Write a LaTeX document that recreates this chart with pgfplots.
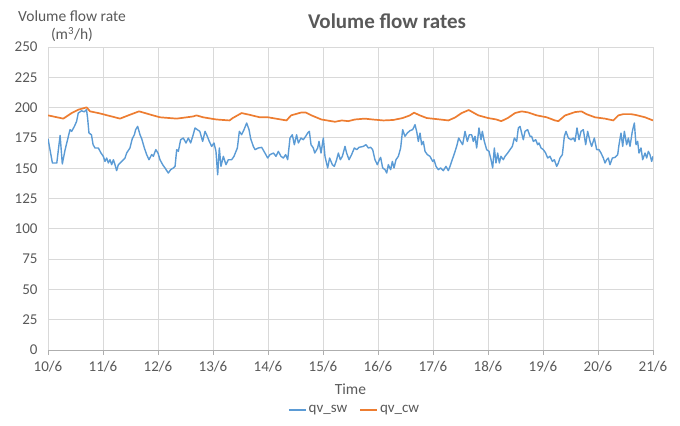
\documentclass[border=0pt]{standalone}
\usepackage{fontspec}
\setmainfont{Carlito}
\usepackage{pgfplots}
\pgfplotsset{compat=1.18}
\definecolor{sw}{HTML}{5B9BD5}
\definecolor{cw}{HTML}{ED7D31}
\definecolor{txt}{HTML}{595959}
\definecolor{grd}{HTML}{D9D9D9}
\begin{document}
\begin{tikzpicture}
\useasboundingbox (0,0) rectangle (680bp,426bp);
\node[font=\fontsize{21bp}{24bp}\selectfont\bfseries, text=txt] at (387bp,405bp) {Volume flow rates};
\node[font=\fontsize{15.5bp}{18bp}\selectfont, text=txt, align=center] at (72bp,400bp) {Volume flow rate\\(m\textsuperscript{3}/h)};
\begin{axis}[
  at={(48bp,76bp)}, anchor=south west,
  scale only axis, width=605bp, height=303bp,
  xmin=0, xmax=11, ymin=0, ymax=250,
  xtick={0,1,...,11},
  xticklabels={10/6,11/6,12/6,13/6,14/6,15/6,16/6,17/6,18/6,19/6,20/6,21/6},
  ytick={0,25,...,250},
  /pgf/number format/assume math mode=true,
  grid=major,
  major grid style={draw=grd, line width=0.8bp},
  axis x line*=bottom, axis y line*=left,
  x axis line style={draw=grd!80!black, line width=0.8bp, -},
  y axis line style={draw=none},
  ytick style={draw=none},
  xtick style={draw=grd!80!black, line width=0.8bp},
  tick align=outside, major tick length=5bp,
  ticklabel style={font=\fontsize{15bp}{17bp}\selectfont, text=txt},
  xticklabel style={yshift=-3bp},
  yticklabel style={xshift=-2bp},
  xlabel={Time},
  xlabel style={font=\fontsize{15.5bp}{18bp}\selectfont, text=txt, yshift=-4bp},
  legend style={at={(0.507,-0.198)}, anchor=center, draw=none, fill=none,
    legend columns=2, font=\fontsize{15bp}{17bp}\selectfont, text=txt,
    /tikz/every even column/.append style={column sep=10bp}},
  legend cell align=left,
]
\addplot[color=sw, line width=1.4bp, line join=round] coordinates {
(0,174.4)(0.08,154.3)(0.16,154.3)(0.22,177.1)(0.26,153.5)(0.31,165)(0.4,181.8)(0.43,180.4)
(0.48,184.5)(0.52,188.6)(0.55,195.5)(0.61,197.4)(0.66,196.5)(0.70,198.3)(0.72,191.4)(0.745,179)
(0.79,177.6)(0.82,169.4)(0.855,166.7)(0.915,166.7)(0.964,162.5)(1.006,159.8)(1.036,155.6)(1.067,158.4)
(1.097,154.3)(1.127,157)(1.158,152.9)(1.188,157)(1.218,152.9)(1.248,148)(1.279,152.9)(1.339,155.6)
(1.4,158.4)(1.43,162.5)(1.49,166.7)(1.533,174.4)(1.57,177.6)(1.594,181.8)(1.63,184.5)(1.673,177.6)
(1.703,174.4)(1.752,166.7)(1.794,161.2)(1.836,157)(1.885,161.2)(1.915,159.8)(1.96,165.3)(2.0,162.5)
(2.036,157)(2.085,152.9)(2.127,150.2)(2.188,146)(2.23,148.8)(2.279,150.2)(2.31,151.5)(2.34,165.3)
(2.37,163.9)(2.412,173.5)(2.46,174.9)(2.509,170.8)(2.552,174.9)(2.594,170.8)(2.64,177.6)(2.673,183.2)
(2.715,181.8)(2.76,180.4)(2.812,172.1)(2.855,180.4)(2.885,177.6)(2.933,172.1)(2.976,168)(3.018,170.8)
(3.054,163.9)(3.085,144.6)(3.115,166.7)(3.145,151.5)(3.188,159.8)(3.236,152.9)(3.279,157)(3.339,157)
(3.382,159.8)(3.443,166.7)(3.479,180.4)(3.52,177.6)(3.564,181.8)(3.612,187.3)(3.655,181.8)(3.685,174.4)
(3.733,168)(3.764,165.3)(3.824,166.7)(3.885,167.2)(3.945,162.5)(3.994,158.4)(4.036,161.2)(4.1,162.5)
(4.145,159.8)(4.188,163.9)(4.236,159.8)(4.279,158.4)(4.321,161.2)(4.358,157)(4.4,174.9)(4.442,177.6)
(4.479,169.4)(4.52,177.6)(4.552,170.8)(4.6,174.9)(4.642,173.5)(4.685,176.3)(4.721,179)(4.752,180.4)
(4.782,169.4)(4.824,166.7)(4.85,162.5)(4.903,166.7)(4.927,172.1)(4.964,162.5)(5.006,174.9)(5.036,159.8)
(5.085,150.2)(5.12,158.4)(5.17,152.9)(5.206,151.5)(5.248,157)(5.279,162.5)(5.315,157)(5.352,159.8)
(5.4,168)(5.43,162.5)(5.473,157)(5.52,161.2)(5.57,166.7)(5.612,165.3)(5.655,167.2)(5.733,168)
(5.782,169.4)(5.824,166.7)(5.867,167.2)(5.903,165.3)(5.945,157)(5.988,152.9)(6.024,157)(6.048,158.9)
(6.085,150.2)(6.127,148.8)(6.158,146)(6.188,152.9)(6.23,148.8)(6.261,155.6)(6.291,150.2)(6.327,157)
(6.37,159.8)(6.412,166.7)(6.448,181.8)(6.49,176.3)(6.533,179)(6.582,181)(6.63,181.8)(6.673,185.9)
(6.703,180.4)(6.733,172.1)(6.764,179)(6.794,169.4)(6.824,172.1)(6.855,163.9)(6.897,161.2)(6.945,159.8)
(6.994,155.6)(7.018,157)(7.055,151.5)(7.097,148.8)(7.139,150.2)(7.188,148)(7.236,151.5)(7.279,148)
(7.309,151.5)(7.339,155.6)(7.382,161.2)(7.43,168)(7.467,174.9)(7.503,172.1)(7.539,169.4)(7.582,180.4)
(7.624,172.1)(7.661,177.6)(7.703,177.6)(7.733,172.1)(7.764,176.3)(7.794,166.7)(7.836,183.2)(7.873,173.5)
(7.897,180.4)(7.933,172.1)(7.976,165.3)(8.018,163.9)(8.055,157)(8.085,150.2)(8.115,166.7)(8.145,154.3)
(8.176,162.5)(8.206,154.3)(8.236,159.8)(8.279,157)(8.309,159.8)(8.358,162.5)(8.4,165.3)(8.443,168)
(8.479,174.9)(8.521,172.1)(8.552,183.2)(8.582,184.5)(8.612,179)(8.642,173.5)(8.673,180.4)(8.721,181.8)
(8.764,176.3)(8.794,176.3)(8.824,172.1)(8.867,173.5)(8.903,169.4)(8.927,170.8)(8.964,166.7)(9.006,165.3)
(9.048,162.5)(9.085,158.4)(9.127,159.8)(9.17,155.6)(9.206,157)(9.249,151.5)(9.279,154.3)(9.309,158.4)
(9.352,161.2)(9.388,176.3)(9.418,180.4)(9.461,174.9)(9.509,173.5)(9.552,174.9)(9.582,172.1)(9.618,183.2)
(9.655,173.5)(9.691,180.4)(9.733,181.8)(9.776,169.4)(9.812,180.4)(9.855,172.1)(9.885,168)(9.933,174.9)
(9.976,165.3)(10.018,165.3)(10.055,162.5)(10.097,158.4)(10.127,154.3)(10.158,157)(10.188,158.4)(10.218,152.9)
(10.261,158.4)(10.309,158.9)(10.358,161.2)(10.382,169.4)(10.418,179)(10.449,168)(10.479,180.4)(10.521,169.4)
(10.552,174.9)(10.582,168)(10.624,180.4)(10.661,187.3)(10.691,169.4)(10.721,172.1)(10.745,162.5)(10.782,166.7)
(10.812,157)(10.855,162.5)(10.885,158.4)(10.915,163.9)(10.945,161.2)(10.976,155.6)(11.0,159.8)
};
\addlegendentry{qv\_sw}
\addplot[color=cw, line width=1.7bp, line join=round] coordinates {
(0,193.6)(0.279,190.9)(0.43,195.5)(0.552,198.3)(0.703,200.2)(0.764,196.9)(0.915,195.5)(1.158,192.7)
(1.309,190.9)(1.461,193.6)(1.655,196.9)(1.764,195.5)(1.885,193.9)(2.036,192)(2.34,190.9)(2.64,192.7)
(2.70,193.6)(2.82,192)(3.06,190.2)(3.3,189.4)(3.36,191.4)(3.52,195.5)(3.67,194)(3.85,192)
(4.0,192)(4.336,189.4)(4.42,193.6)(4.6,195.9)(4.69,195.9)(4.79,193.6)(4.97,190.2)(5.218,188.3)
(5.34,189.4)(5.46,188.8)(5.582,190.2)(5.76,190.9)(5.9,190.2)(6.1,189.4)(6.279,189.8)(6.45,191.4)
(6.58,193.6)(6.655,195.8)(6.76,193.6)(6.885,191.4)(7.127,190.2)(7.279,189.4)(7.4,191.8)(7.521,195.5)
(7.65,198)(7.824,193.6)(8.0,191.4)(8.152,190.2)(8.24,188.8)(8.36,191.4)(8.491,195.5)(8.612,196.9)
(8.73,196)(8.885,193.6)(9.067,192)(9.218,189.4)(9.279,188.8)(9.4,193.5)(9.582,196.3)(9.7,196.9)
(9.79,194.6)(9.945,192)(10.127,190.9)(10.279,189.4)(10.37,193.6)(10.46,194.6)(10.6,194.6)(10.69,193.9)
(10.855,192)(11.0,189.4)
};
\addlegendentry{qv\_cw}
\end{axis}
\end{tikzpicture}
\end{document}
